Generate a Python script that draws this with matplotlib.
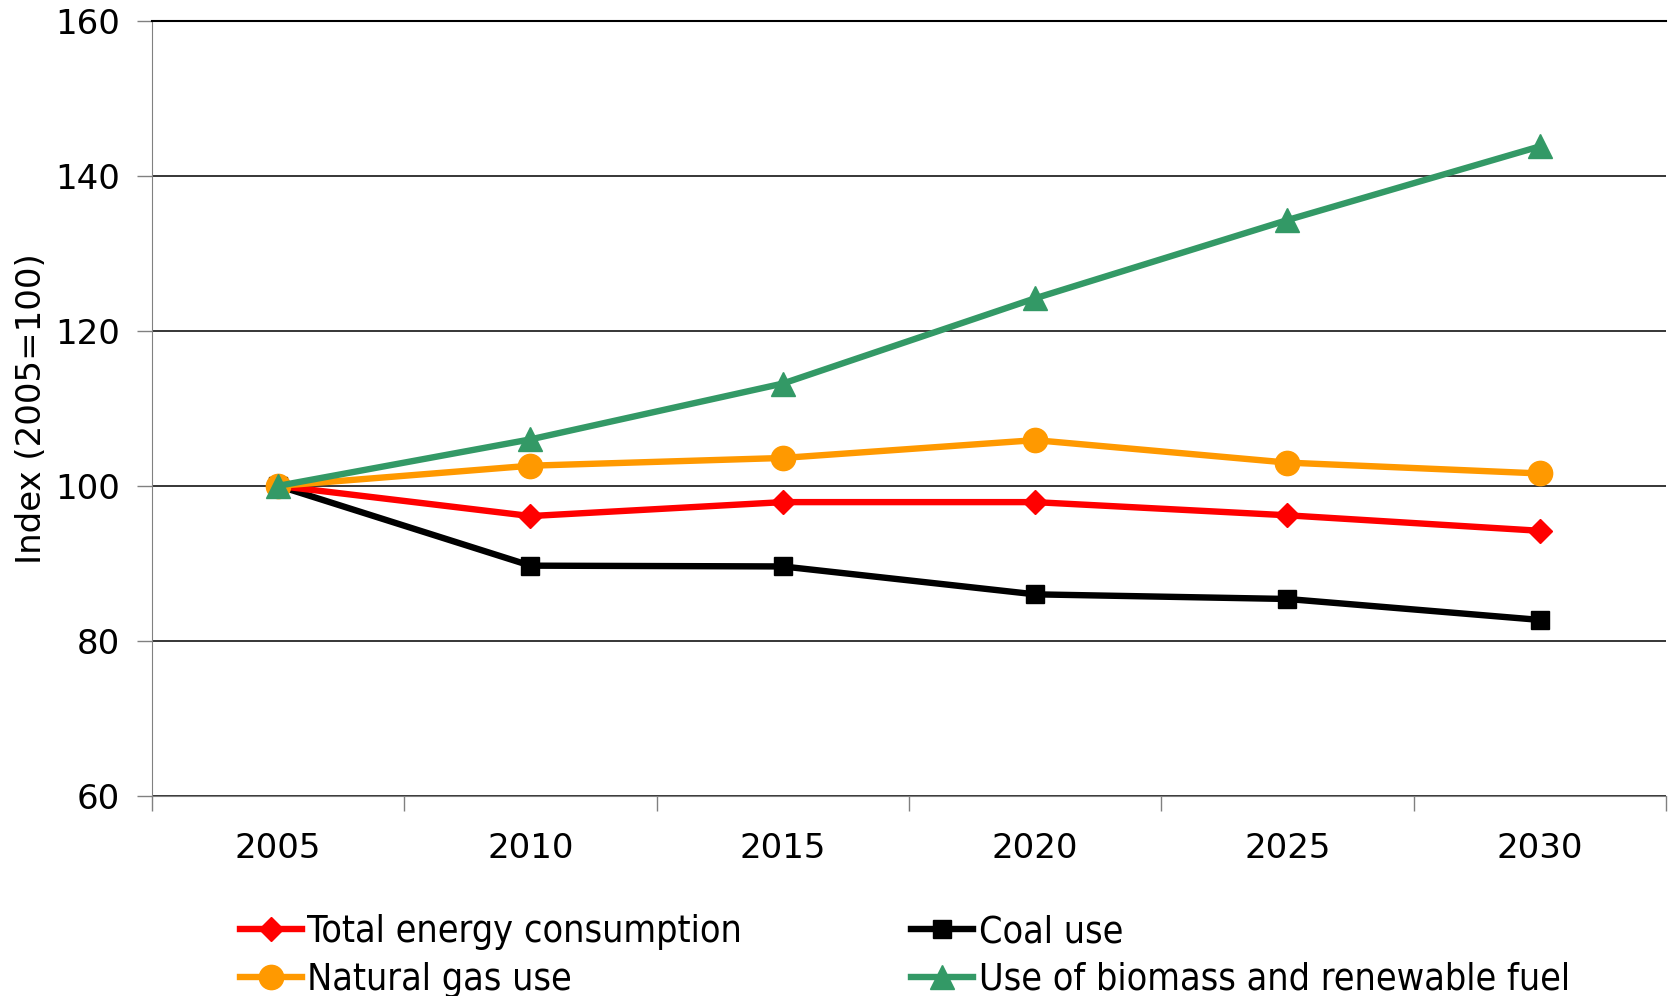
import matplotlib.pyplot as plt
from matplotlib.ticker import FixedLocator
from matplotlib.font_manager import FontProperties

# 데이터
years = ['2005', '2010', '2015', '2020', '2025', '2030']
total_energy = [100, 96.1, 97.9, 97.9, 96.2, 94.2]
coal_use = [100, 89.7, 89.6, 86.0, 85.4, 82.7]
natural_gas = [100, 102.6, 103.6, 105.9, 103.0, 101.6]
biomass = [100, 106.0, 113.2, 124.2, 134.3, 143.8]

y_ticks = [60, 80, 100, 120, 140, 160]

fig = plt.figure(figsize=(16.69, 9.96), dpi=100)
ax = fig.add_axes([0.0911, 0.201, 0.907, 0.778])

x = range(len(years))
lw = 4.6
h_total, = ax.plot(x, total_energy, color='#FF0000', lw=lw, marker='D', ms=12,
                   label='Total energy consumption', zorder=4)
h_coal, = ax.plot(x, coal_use, color='black', lw=lw, marker='s', ms=13.5,
                  label='Coal use', zorder=3)
h_gas, = ax.plot(x, natural_gas, color='#FF9900', lw=lw, marker='o', ms=17.5,
                 label='Natural gas use', zorder=5)
h_bio, = ax.plot(x, biomass, color='#339966', lw=lw, marker='^', ms=17.5,
                 label='Use of biomass and renewable fuel', zorder=6)

# 축 설정
ax.set_xlim(-0.5, len(years) - 0.5)
ax.set_ylim(60, 160)
ax.set_yticks(y_ticks)
ax.set_yticklabels([str(v) for v in y_ticks])
ax.set_xticks(list(x))
ax.set_xticklabels(years)
ax.xaxis.set_minor_locator(FixedLocator([i - 0.5 for i in range(len(years) + 1)]))

ax.tick_params(axis='x', which='major', length=0, pad=26, labelsize=24.5)
ax.tick_params(axis='x', which='minor', length=11, width=1, color='#808080', direction='out')
ax.tick_params(axis='y', which='major', length=11, width=1, color='#808080', direction='out',
               pad=12, labelsize=24.5)

# 보조선
ax.grid(axis='y', color='black', linewidth=1.1)
ax.set_axisbelow(True)

ax.spines['right'].set_visible(False)
ax.spines['top'].set_color('black')
ax.spines['top'].set_linewidth(1.5)
ax.spines['left'].set_color('#808080')
ax.spines['bottom'].set_color('#808080')

ax.set_ylabel('Index (2005=100)', fontsize=24.5, labelpad=5)

# 범례
leg_font = FontProperties(family='DejaVu Sans', stretch='condensed', size=27)
leg = fig.legend([h_total, h_gas, h_coal, h_bio],
                 [h_total.get_label(), h_gas.get_label(), h_coal.get_label(), h_bio.get_label()],
                 ncol=2, loc='lower left', bbox_to_anchor=(0.128, -0.028),
                 frameon=False, handlelength=1.65, handletextpad=0.15,
                 columnspacing=4.5, labelspacing=0.3, borderpad=0.2,
                 prop=leg_font)

fig.savefig('out.png', dpi=100)
